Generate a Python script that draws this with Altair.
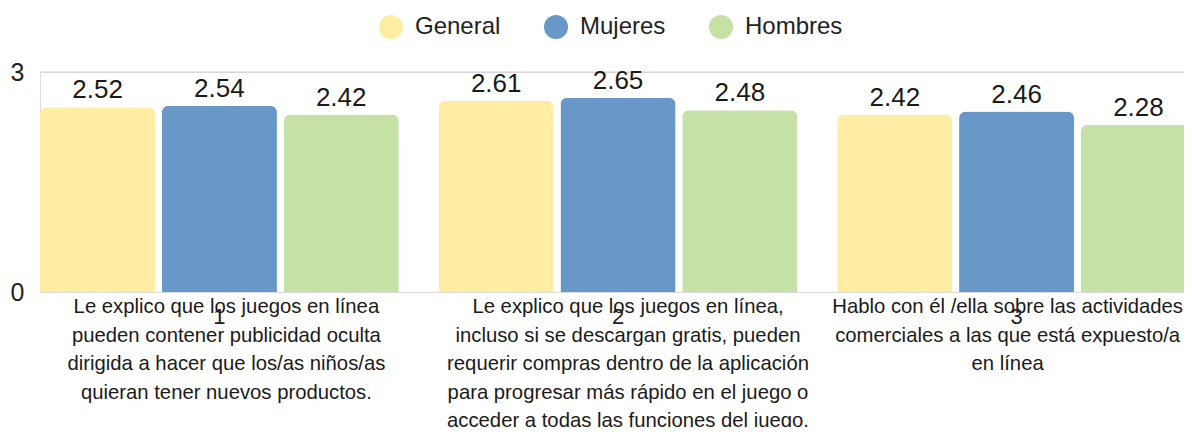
import altair as alt
import pandas as pd

groups = ["1", "2", "3"]
series = ["General", "Mujeres", "Hombres"]
general = [2.52, 2.61, 2.42]
mujeres = [2.54, 2.65, 2.46]
hombres = [2.42, 2.48, 2.28]
colors = ["#FEEDA3", "#6798C8", "#C5E1A5"]
descriptions = [
    "Le explico que los juegos en línea\npueden contener publicidad oculta\ndirigida a hacer que los/as niños/as\nquieran tener nuevos productos.",
    "Le explico que los juegos en línea,\nincluso si se descargan gratis, pueden\nrequerir compras dentro de la aplicación\npara progresar más rápido en el juego o\nacceder a todas las funciones del juego.",
    "Hablo con él /ella sobre las actividades\ncomerciales a las que está expuesto/a\nen línea",
]
desc_shift = [7, 10, -9]

rows = []
for s, vals in zip(series, [general, mujeres, hombres]):
    for g, v in zip(groups, vals):
        rows.append({"grupo": g, "serie": s, "valor": v})
df = pd.DataFrame(rows)
desc_df = pd.DataFrame({"grupo": groups, "texto": descriptions})

FONT = "Liberation Sans"
W, H = 1156, 220
yscale = alt.Scale(domain=[0, 3], nice=False)
yaxis = alt.Axis(values=[0, 3], format="d", labelFontSize=25, labelColor="#222222",
                 labelFont=FONT, ticks=False, domain=False, grid=False, labelPadding=16)

x_enc = alt.X("grupo:N", sort=groups, title=None,
              scale=alt.Scale(paddingInner=0.1, paddingOuter=0),
              axis=alt.Axis(labelAngle=0, labelFontSize=22, labelColor="#222222",
                            labelFont=FONT, ticks=False, domain=False, labelPadding=14,
                            grid=False))
y_enc = alt.Y("valor:Q", title=None, scale=yscale, axis=yaxis)
xoff = alt.XOffset("serie:N", sort=series, scale=alt.Scale(paddingInner=0.055, paddingOuter=0))

base = alt.Chart(df)

grid = alt.Chart(pd.DataFrame({"v": [3]})).mark_rule(color="#d4d4d4", strokeWidth=1.2).encode(
    y=alt.Y("v:Q", title=None, scale=yscale, axis=yaxis),
    x=alt.value(0), x2=alt.value(W),
)

bars = base.mark_bar(cornerRadiusTopLeft=7, cornerRadiusTopRight=7).encode(
    x=x_enc, xOffset=xoff, y=y_enc,
    color=alt.Color("serie:N", sort=series,
                    scale=alt.Scale(domain=series, range=colors),
                    legend=alt.Legend(title=None, orient="none", direction="horizontal",
                                      legendX=339, legendY=-57,
                                      symbolType="circle", symbolSize=576,
                                      symbolStrokeWidth=0, labelFontSize=24,
                                      labelFont=FONT, labelColor="#222222",
                                      labelOffset=12, columnPadding=43)),
)

labels = base.mark_text(fontSize=26, font=FONT, color="#1a1a1a", baseline="alphabetic", dy=-9).encode(
    x=alt.X("grupo:N", sort=groups), xOffset=xoff, y=alt.Y("valor:Q"),
    text=alt.Text("valor:Q", format=".2f"),
)

desc_layers = []
for g, shift in zip(groups, desc_shift):
    desc_layers.append(
        alt.Chart(desc_df).transform_filter(alt.datum.grupo == g).mark_text(
            fontSize=20.3, font=FONT, color="#1a1a1a", baseline="alphabetic",
            lineBreak="\n", lineHeight=28.5, align="center", dx=shift).encode(
            x=alt.X("grupo:N", sort=groups),
            y=alt.value(241),
            text="texto:N",
        )
    )

chart = alt.layer(grid, bars, labels, *desc_layers).properties(
    width=W, height=H,
    autosize=alt.AutoSizeParams(type="none"),
    padding={"left": 32, "top": 64, "right": -12, "bottom": 135},
).configure_view(strokeWidth=0, stroke="transparent").configure_axis(
    grid=False, domain=False, ticks=False).configure(background="white")

chart.save("out.html", embed_options={"renderer": "svg", "actions": False})
